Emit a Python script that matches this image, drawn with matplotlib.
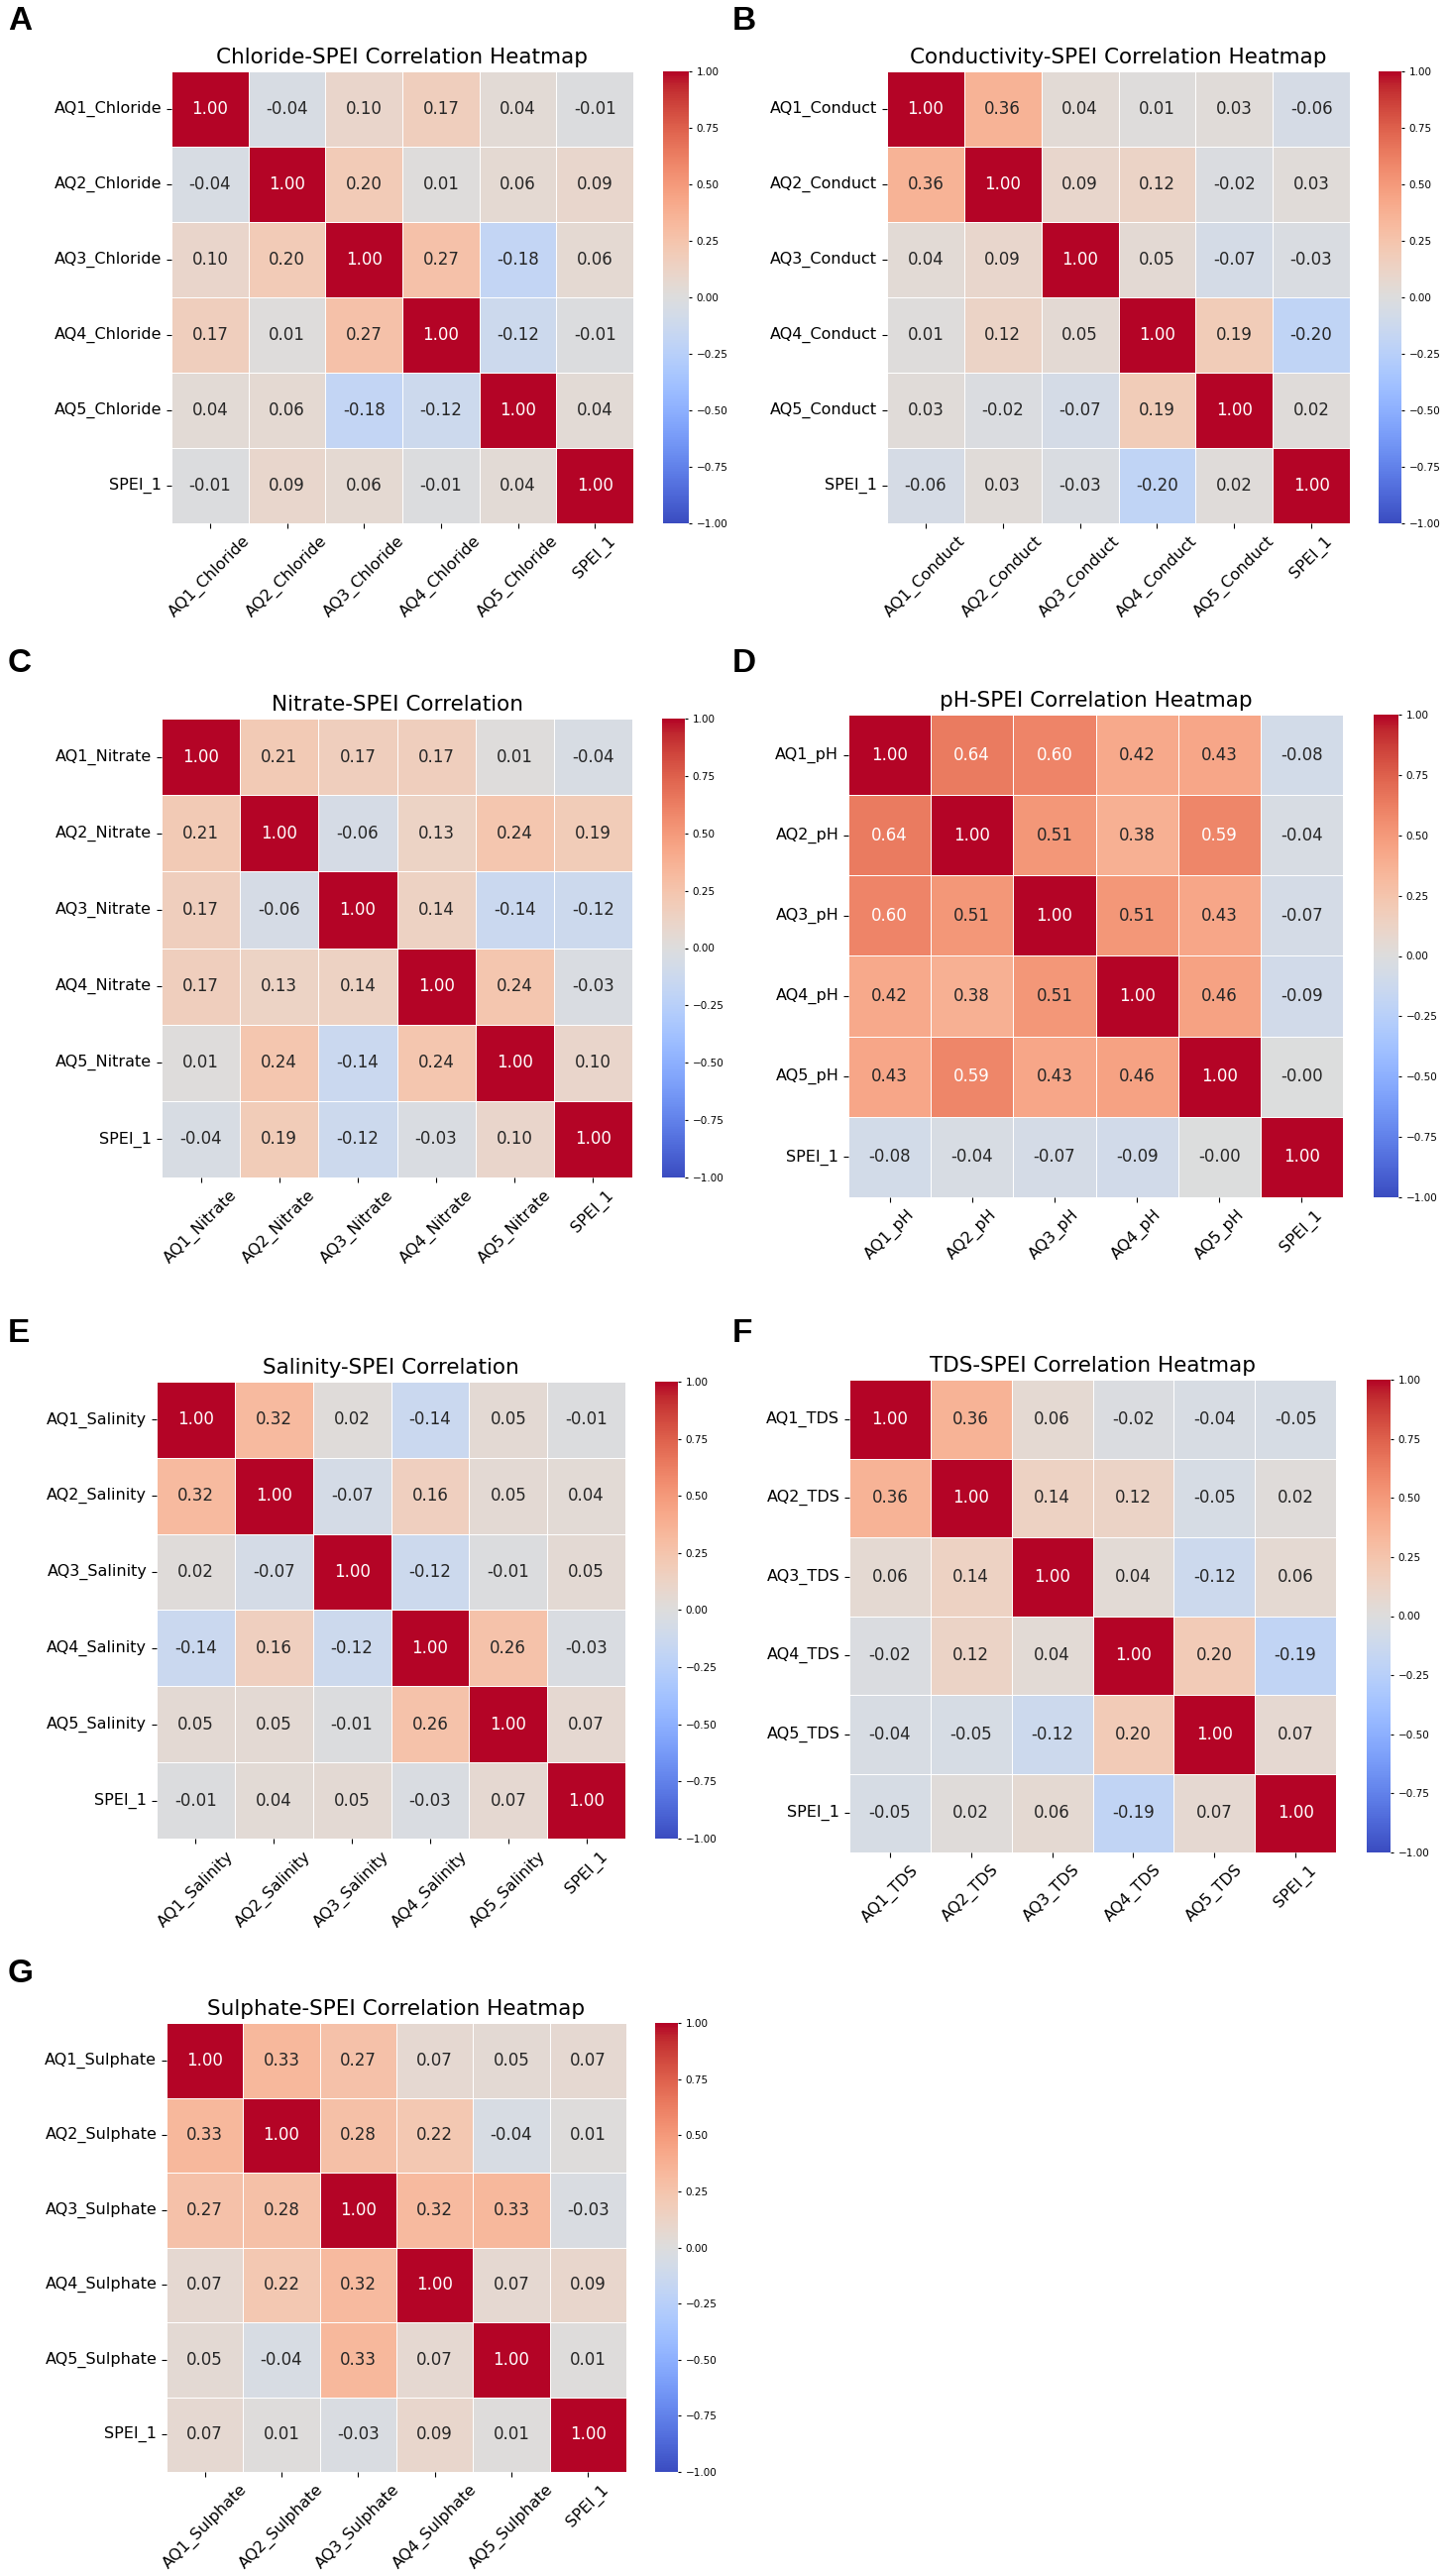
import numpy as np
import matplotlib
matplotlib.use("Agg")
import matplotlib.pyplot as plt
import seaborn as sns

# correlation matrices (rows/cols: AQ1..AQ5, SPEI_1)
chloride = [[1.00, -0.04, 0.10, 0.17, 0.04, -0.01],
            [-0.04, 1.00, 0.20, 0.01, 0.06, 0.09],
            [0.10, 0.20, 1.00, 0.27, -0.18, 0.06],
            [0.17, 0.01, 0.27, 1.00, -0.12, -0.01],
            [0.04, 0.06, -0.18, -0.12, 1.00, 0.04],
            [-0.01, 0.09, 0.06, -0.01, 0.04, 1.00]]

conductivity = [[1.00, 0.36, 0.04, 0.01, 0.03, -0.06],
                [0.36, 1.00, 0.09, 0.12, -0.02, 0.03],
                [0.04, 0.09, 1.00, 0.05, -0.07, -0.03],
                [0.01, 0.12, 0.05, 1.00, 0.19, -0.20],
                [0.03, -0.02, -0.07, 0.19, 1.00, 0.02],
                [-0.06, 0.03, -0.03, -0.20, 0.02, 1.00]]

nitrate = [[1.00, 0.21, 0.17, 0.17, 0.01, -0.04],
           [0.21, 1.00, -0.06, 0.13, 0.24, 0.19],
           [0.17, -0.06, 1.00, 0.14, -0.14, -0.12],
           [0.17, 0.13, 0.14, 1.00, 0.24, -0.03],
           [0.01, 0.24, -0.14, 0.24, 1.00, 0.10],
           [-0.04, 0.19, -0.12, -0.03, 0.10, 1.00]]

ph = [[1.00, 0.64, 0.60, 0.42, 0.43, -0.08],
      [0.64, 1.00, 0.51, 0.38, 0.59, -0.04],
      [0.60, 0.51, 1.00, 0.51, 0.43, -0.07],
      [0.42, 0.38, 0.51, 1.00, 0.46, -0.09],
      [0.43, 0.59, 0.43, 0.46, 1.00, -0.004],
      [-0.08, -0.04, -0.07, -0.09, -0.004, 1.00]]

salinity = [[1.00, 0.32, 0.02, -0.14, 0.05, -0.01],
            [0.32, 1.00, -0.07, 0.16, 0.05, 0.04],
            [0.02, -0.07, 1.00, -0.12, -0.01, 0.05],
            [-0.14, 0.16, -0.12, 1.00, 0.26, -0.03],
            [0.05, 0.05, -0.01, 0.26, 1.00, 0.07],
            [-0.01, 0.04, 0.05, -0.03, 0.07, 1.00]]

tds = [[1.00, 0.36, 0.06, -0.02, -0.04, -0.05],
       [0.36, 1.00, 0.14, 0.12, -0.05, 0.02],
       [0.06, 0.14, 1.00, 0.04, -0.12, 0.06],
       [-0.02, 0.12, 0.04, 1.00, 0.20, -0.19],
       [-0.04, -0.05, -0.12, 0.20, 1.00, 0.07],
       [-0.05, 0.02, 0.06, -0.19, 0.07, 1.00]]

sulphate = [[1.00, 0.33, 0.27, 0.07, 0.05, 0.07],
            [0.33, 1.00, 0.28, 0.22, -0.04, 0.01],
            [0.27, 0.28, 1.00, 0.32, 0.33, -0.03],
            [0.07, 0.22, 0.32, 1.00, 0.07, 0.09],
            [0.05, -0.04, 0.33, 0.07, 1.00, 0.01],
            [0.07, 0.01, -0.03, 0.09, 0.01, 1.00]]

params = ["Chloride", "Conduct", "Nitrate", "pH", "Salinity", "TDS", "Sulphate"]
titles = ["Chloride-SPEI Correlation Heatmap",
          "Conductivity-SPEI Correlation Heatmap",
          "Nitrate-SPEI Correlation",
          "pH-SPEI Correlation Heatmap",
          "Salinity-SPEI Correlation",
          "TDS-SPEI Correlation Heatmap",
          "Sulphate-SPEI Correlation Heatmap"]
letters = ["A", "B", "C", "D", "E", "F", "G"]
matrices = [chloride, conductivity, nitrate, ph, salinity, tds, sulphate]

W, H = 1461, 2599
fig = plt.figure(figsize=(W / 100, H / 100), dpi=100)

# panel boxes in pixels: heatmap (x0, y0, x1, y1), colorbar x0, x1, letter position
heat_boxes = [(173, 72, 639, 528), (895, 72, 1362, 528),
              (163, 725, 638, 1188), (856, 721, 1355, 1208),
              (158, 1394, 631, 1855), (857, 1392, 1348, 1869),
              (168, 2041, 632, 2494)]
cbar_x = [(669, 695), (1391, 1414), (668, 691), (1386, 1411),
          (661, 684), (1379, 1403), (661, 684)]
letter_pos = [(8, 21), (739, 21), (8, 670), (739, 670),
              (8, 1345), (739, 1345), (8, 1992)]


def px_rect(x0, y0, x1, y1):
    return [x0 / W, 1 - y1 / H, (x1 - x0) / W, (y1 - y0) / H]


for i in range(7):
    labels = [f"AQ{k}_{params[i]}" for k in range(1, 6)] + ["SPEI_1"]
    x0, y0, x1, y1 = heat_boxes[i]
    ax = fig.add_axes(px_rect(x0, y0, x1, y1))
    cax = fig.add_axes(px_rect(cbar_x[i][0], y0, cbar_x[i][1], y1))
    sns.heatmap(np.array(matrices[i]), ax=ax, cbar_ax=cax, cmap="coolwarm",
                vmin=-1, vmax=1, annot=True, fmt=".2f",
                annot_kws={"size": 12}, linewidths=0.5, linecolor="white",
                xticklabels=labels, yticklabels=labels)
    ax.set_title(titles[i], fontsize=15.5)
    ax.tick_params(axis="both", labelsize=11.5)
    plt.setp(ax.get_xticklabels(), rotation=45)
    plt.setp(ax.get_yticklabels(), rotation=0)
    cax.tick_params(labelsize=7.5, length=2)
    fig.text(letter_pos[i][0] / W, 1 - letter_pos[i][1] / H, letters[i],
             fontsize=24, fontweight="bold", family="Liberation Sans",
             va="center", ha="left")

fig.savefig("out.png", dpi=100)
